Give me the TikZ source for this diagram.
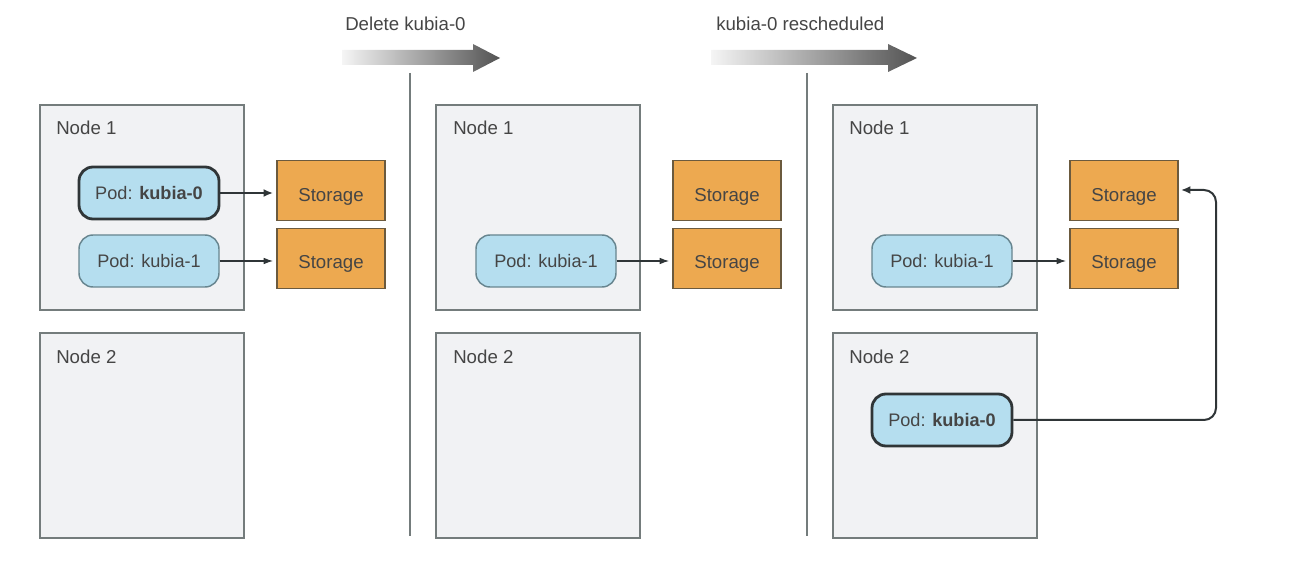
\documentclass[tikz,border=0pt]{standalone}
\usepackage{fontspec}
\setmainfont{Liberation Sans}
\usetikzlibrary{shapes.geometric,arrows.meta,calc}
\definecolor{panelfill}{HTML}{F1F2F4}
\definecolor{panelline}{HTML}{747C7C}
\definecolor{podfill}{HTML}{B5DEEF}
\definecolor{podline}{HTML}{67858F}
\definecolor{podbold}{HTML}{2F3537}
\definecolor{cylfill}{HTML}{EDA950}
\definecolor{cylline}{HTML}{6B5A3E}
\definecolor{txt}{HTML}{454545}
\tikzset{
 x=0.75pt,y=-0.75pt,
 panel/.style={draw=panelline,fill=panelfill,line width=1.5pt,minimum width=153pt,minimum height=154pt,inner sep=0pt,anchor=north west},
 panellabel/.style={text=txt,font=\fontsize{14}{16}\selectfont,anchor=base west,inner sep=0pt},
 podthin/.style={draw=podline,fill=podfill,line width=1.1pt,rounded corners=10.5pt,minimum width=105pt,minimum height=39pt,inner sep=0pt,text=txt,font=\fontsize{13.6}{16}\selectfont},
 podthick/.style={podthin,draw=podbold,line width=2.1pt},
 store/.style={cylinder,shape border rotate=90,aspect=0.27,draw=cylline,fill=cylfill,line width=1pt,minimum width=81pt,minimum height=45pt,inner sep=0pt},
 storetext/.style={text=txt,font=\fontsize{14}{16}\selectfont,inner sep=0pt},
 thinlink/.style={draw=podbold,line width=0.8pt,-{Latex[length=7pt,width=5pt]}},
 thicklink/.style={draw=podbold,line width=1.5pt,-{Latex[length=7pt,width=6pt]}},
 divider/.style={draw=panelline,line width=1.2pt},
 steptext/.style={text=txt,font=\fontsize{14}{16}\selectfont,inner sep=0pt,anchor=base west},
 bigarrow/.style={left color=white!92!gray,right color=black!50!gray!90,draw=none},
}
\begin{document}
\begin{tikzpicture}
\useasboundingbox (0,0) rectangle (1300,566);
% panels
\node[panel] (a1) at (39,104) {};
\node[panel] (a2) at (39,332) {};
\node[panel] (b1) at (435,104) {};
\node[panel] (b2) at (435,332) {};
\node[panel] (c1) at (832,104) {};
\node[panel] (c2) at (832,332) {};
\node[panellabel] (la1) at (56,135) {Node 1};
\node[panellabel] (la2) at (56,364) {Node 2};
\node[panellabel] (lb1) at (453,135) {Node 1};
\node[panellabel] (lb2) at (453,364) {Node 2};
\node[panellabel] (lc1) at (849,135) {Node 1};
\node[panellabel] (lc2) at (849,364) {Node 2};
% dividers
\coordinate (d1t) at (410,73); \coordinate (d1b) at (410,536);
\coordinate (d2t) at (807,73); \coordinate (d2b) at (807,536);
\draw[divider] (d1t) -- (d1b);
\draw[divider] (d2t) -- (d2b);
% top arrows
\shade[bigarrow] (342,50) -- (473,50) -- (473,44) -- (500,58) -- (473,72) -- (473,65) -- (342,65) -- cycle;
\shade[bigarrow] (711,50) -- (888,50) -- (888,44) -- (917,58) -- (888,72) -- (888,65) -- (711,65) -- cycle;
\node[steptext] (s1) at (345,31) {Delete kubia-0};
\node[steptext] (s2) at (716,31) {kubia-0 rescheduled};
% storage
\node[store] (sa0) at (331,191) {};
\node[store] (sa1) at (331,259) {};
\node[store] (sb0) at (727,191) {};
\node[store] (sb1) at (727,259) {};
\node[store] (sc0) at (1124,191) {};
\node[store] (sc1) at (1124,259) {};
\node[storetext] (ta0) at (331,197) {Storage};
\node[storetext] (ta1) at (331,264) {Storage};
\node[storetext] (tb0) at (727,197) {Storage};
\node[storetext] (tb1) at (727,264) {Storage};
\node[storetext] (tc0) at (1124,197) {Storage};
\node[storetext] (tc1) at (1124,264) {Storage};
% pods
\node[podthick] (pa0) at (149,193) {Pod: \textbf{kubia-0}};
\node[podthin] (pa1) at (149,261) {Pod: kubia-1};
\node[podthin] (pb1) at (546,261) {Pod: kubia-1};
\node[podthin] (pc1) at (942,261) {Pod: kubia-1};
\node[podthick] (pc0) at (942,420) {Pod: \textbf{kubia-0}};
% links
\draw[thicklink,shorten >=2.5pt] (pa0.east) -- (pa0.east -| sa0.west);
\draw[thinlink,shorten >=2.5pt] (pa1.east) -- (pa1.east -| sa1.west);
\draw[thinlink,shorten >=2.5pt] (pb1.east) -- (pb1.east -| sb1.west);
\draw[thinlink,shorten >=2.5pt] (pc1.east) -- (pc1.east -| sc1.west);
\coordinate (turn) at (1216,420);
\coordinate (top) at (1216,190);
\coordinate (tip) at (1181,190);
\draw[thicklink,rounded corners=9pt] (pc0.east) -- (turn) -- (top) -- (tip);
\end{tikzpicture}
\end{document}
